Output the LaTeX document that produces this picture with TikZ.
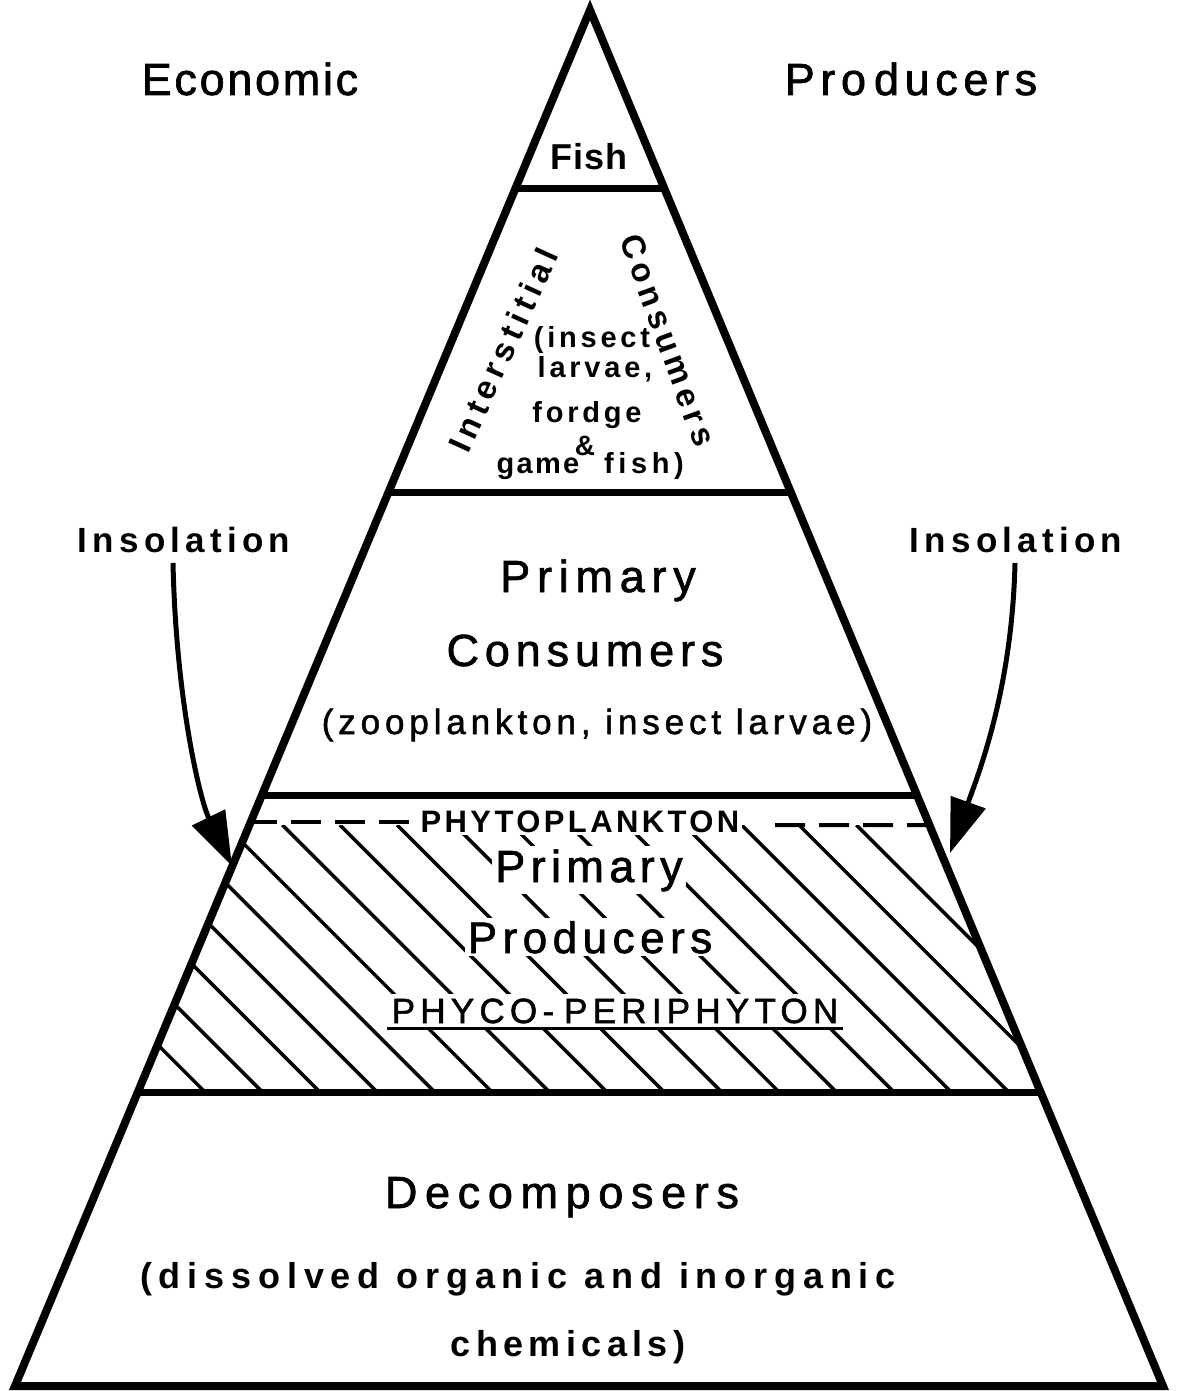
\documentclass[tikz,border=0pt]{standalone}
\usepackage{fontspec}
\setmainfont{Liberation Sans}
\usetikzlibrary{arrows.meta,calc}
\newcommand{\myfs}[2]{\fontsize{#1}{#1}\selectfont\addfontfeatures{LetterSpace=#2,FakeBold=1.5}}
\newcommand{\myfsb}[2]{\fontsize{#1}{#1}\selectfont\bfseries\addfontfeatures{LetterSpace=#2}}
\begin{document}
\begin{tikzpicture}[x=1pt,y=-1pt,
  outline/.style={line width=8pt,line join=miter},
  band/.style={line width=7pt},
  hatchline/.style={line width=3.5pt},
  lbl/.style={inner sep=0pt,anchor=base},
  hlbl/.style={anchor=base,fill=white,inner sep=3pt},
  insarrow/.style={line width=5pt,-{Triangle[length=54pt,width=36pt]}},
  dashline/.style={line width=4pt,dash pattern=on 30pt off 14pt}
]
\useasboundingbox (0,0) rectangle (1176,1391);
\fill[white] (0,0) rectangle (1176,1391);

% pyramid geometry
\coordinate (A) at (590,10);
\coordinate (BL) at (15,1386);
\coordinate (BR) at (1163,1386);
\coordinate (l1) at ($(A)!0.129360!(BL)$); \coordinate (r1) at ($(A)!0.129360!(BR)$);
\coordinate (l2) at ($(A)!0.350291!(BL)$); \coordinate (r2) at ($(A)!0.350291!(BR)$);
\coordinate (l3) at ($(A)!0.570494!(BL)$); \coordinate (r3) at ($(A)!0.570494!(BR)$);
\coordinate (lt) at ($(A)!0.592297!(BL)$); \coordinate (rt) at ($(A)!0.592297!(BR)$);
\coordinate (ld) at ($(A)!0.590116!(BL)$); \coordinate (rd) at ($(A)!0.592297!(BR)$);
\coordinate (l4) at ($(A)!0.786337!(BL)$); \coordinate (r4) at ($(A)!0.786337!(BR)$);

% hatching of the primary producer band
\begin{scope}
  \clip (lt) -- (rt) -- (r4) -- (l4) -- cycle;
  \foreach \c in {-887,-829.6,-772.2,-714.8,-657.4,-600,-542.6,-485.2,-427.8,-370.4,-313,-255.6,-198.2,-140.8,-83.4,-26,31.4}
    \draw[hatchline] ({825+\c},825) -- ({1092+\c},1092);
\end{scope}

% texts over the hatching
\node[hlbl] (phyto) at (580,832) {\myfsb{31}{11}PHYTOPLANKTON};
\node[hlbl] (prim2) at (589,882) {\myfs{45}{12}Primary};
\node[hlbl] (prod2) at (590,953) {\myfs{44}{12.5}Producers};
\node[hlbl,inner ysep=5pt] (phyco) at (615,1023) {\myfs{35}{15}PHYCO-\kern10pt PERIPHYTON};
\draw[line width=3pt] (387,1028) -- (843,1028);

% dashed boundary
\coordinate (dr) at (775,825);
\draw[dashline,dash phase=4pt] (ld) -- (phyto.west |- ld);
\draw[dashline] (dr) -- (rd);

% band lines and outline
\draw[band] (l1) -- (r1);
\draw[band] (l2) -- (r2);
\draw[band] (l3) -- (r3);
\draw[band] (l4) -- (r4);
\draw[outline] (A) -- (BR) -- (BL) -- cycle;

% headings
\node[lbl] (econ) at (250,95) {\myfs{45}{6}Economic};
\node[lbl] (prodtop) at (911,95) {\myfs{45}{12.5}Pro\kern8pt ducers};

% fish
\node[lbl] (fish) at (589,170) {\myfsb{36}{3}Fish};

% interstitial consumers
\node[inner sep=0pt,rotate=65.5] (inter) at (503,350) {\myfsb{33}{17}Interstitial};
\node[inner sep=0pt,rotate=-70] (cons1) at (668,340) {\myfsb{33}{15.5}Consumers};
\node[lbl] (insect) at (592,347) {\myfsb{29}{13}(insect};
\node[lbl] (larvae) at (595,377) {\myfsb{29}{13}larvae,};
\node[lbl] (fordge) at (587,422) {\myfsb{29}{13}fordge};
\node[inner sep=0pt] (amp) at (585,446) {\myfsb{28}{0}\&};
\node[lbl] (game) at (538,473) {\myfsb{29}{8}game};
\node[lbl] (fishb) at (644,473) {\myfsb{29}{16}fish)};

% primary consumers
\node[lbl] (prim1) at (598,592) {\myfs{45}{15}Primary};
\node[lbl] (cons2) at (585,666) {\myfs{45}{13}Consumers};
\node[lbl] (zoo) at (597,734) {\myfs{35}{14}(zooplankton, insect larvae)};

% decomposers
\node[lbl] (decomp) at (562,1208) {\myfs{45}{17}Decomposers};
\node[lbl] (diss) at (518,1288) {\myfsb{36}{19}(dissolved organic and inorganic};
\node[lbl] (chem) at (568,1356) {\myfsb{36}{15}chemicals)};

% insolation arrows
\node[lbl] (insL) at (184,552) {\myfsb{35}{15}Insolation};
\node[lbl] (insR) at (1016,552) {\myfsb{35}{15}Insolation};
\coordinate (tipL) at (232,866);
\coordinate (tipR) at (950,853);
\draw[insarrow] ($(insL.base)+(-11,11)$) .. controls (176,700) and (200,800) .. (tipL);
\draw[insarrow] ($(insR.base)+(-1,11)$) .. controls (1012,690) and (978,775) .. (tipR);
\end{tikzpicture}
\end{document}
